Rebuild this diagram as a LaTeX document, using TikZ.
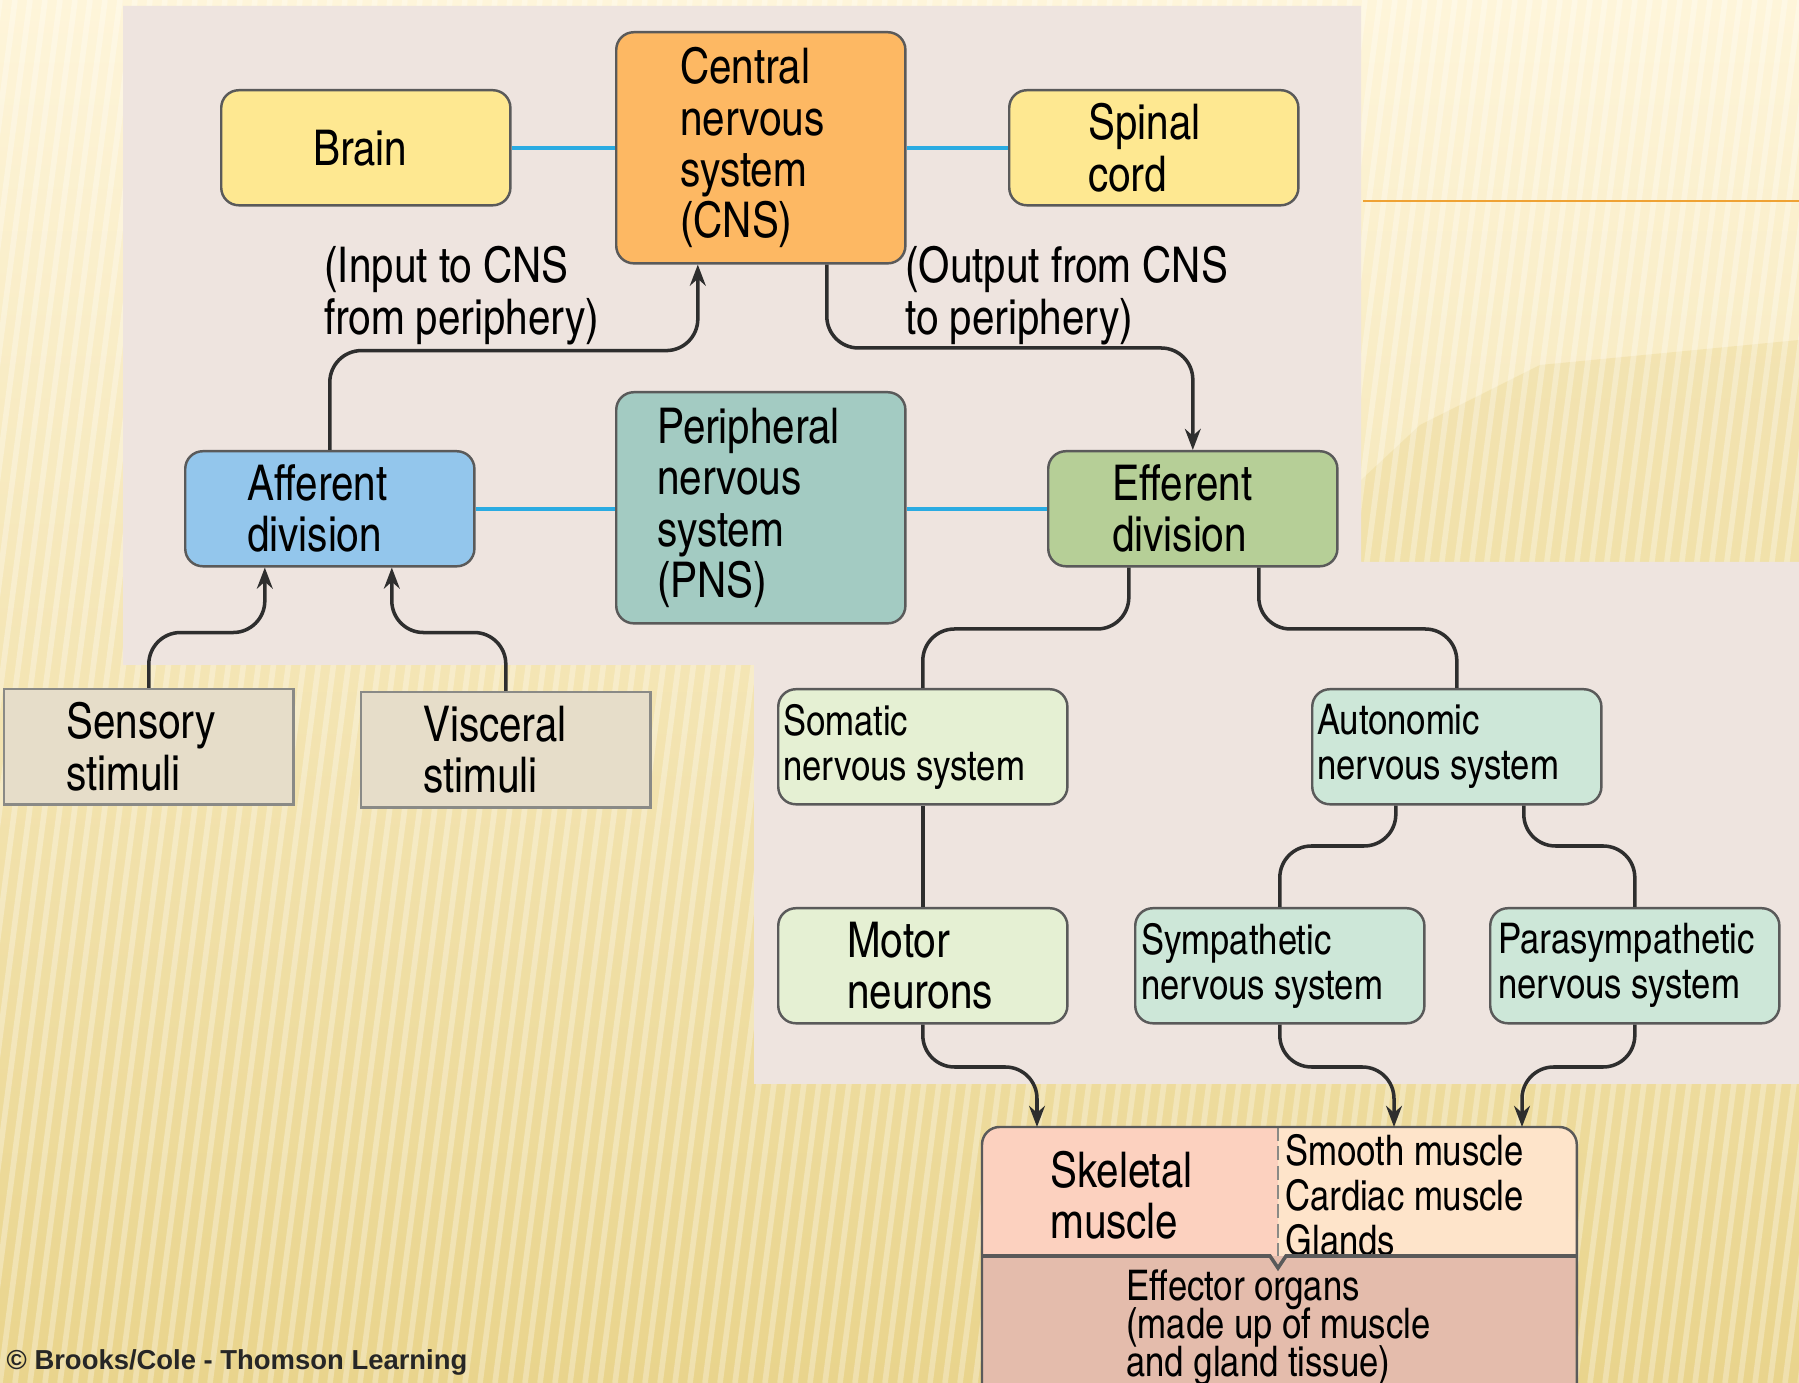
\documentclass[tikz,border=0pt]{standalone}
\usepackage{fontspec}
\setmainfont{texgyreheroscn}[Extension=.otf, UprightFont=*-regular, BoldFont=*-bold, ItalicFont=*-italic, BoldItalicFont=*-bolditalic]
\newfontfamily\creditfont{Liberation Sans}
\usepackage{tikz}
\usetikzlibrary{arrows.meta}
\usetikzlibrary{calc}
\newcommand\tightlines{\lineskiplimit=-10pt\relax}

\definecolor{panel}{HTML}{EEE4DF}
\definecolor{bgtop}{HTML}{FEF5DA}
\definecolor{bgbottom}{HTML}{E9D48C}
\definecolor{brainfill}{HTML}{FEE891}
\definecolor{cnsfill}{HTML}{FDB863}
\definecolor{afffill}{HTML}{93C6EC}
\definecolor{pnsfill}{HTML}{A3CBC2}
\definecolor{efffill}{HTML}{B6CF97}
\definecolor{stimfill}{HTML}{E6DDC9}
\definecolor{somfill}{HTML}{E5F0D3}
\definecolor{autfill}{HTML}{CDE7D8}
\definecolor{skelfill}{HTML}{FCD1BF}
\definecolor{smoothfill}{HTML}{FEE4CA}
\definecolor{effbase}{HTML}{E4BCAC}
\definecolor{boxline}{HTML}{5A5A5A}
\definecolor{stimline}{HTML}{8A8A86}
\definecolor{nerveblue}{HTML}{2AABE2}
\definecolor{linkgray}{HTML}{2E2E2E}
\definecolor{ruleorange}{HTML}{EFA234}

\begin{document}
\begin{tikzpicture}[x=0.01cm, y=-0.01cm]
\tikzset{font=\fontsize{14}{14.6}\selectfont}
\tikzset{box/.style={draw=boxline, line width=0.7pt, rounded corners=5pt, anchor=north west, minimum width=2.89cm, minimum height=1.15cm, align=flush left, inner sep=2pt}}
\tikzset{tall/.style={box, minimum height=2.31cm}}
\tikzset{stim/.style={box, sharp corners, draw=stimline, fill=stimfill}}
\tikzset{indent/.code={\pgfmathsetlengthmacro\boxtw{2.89cm-2*#1}\tikzset{inner xsep=#1, text width=\boxtw}}}
\tikzset{smalltext/.style={font=\fontsize{12}{12.8}\selectfont}}
\tikzset{notetext/.style={font={\fontsize{12}{10.9}\selectfont\tightlines}}}
\tikzset{nerve/.style={draw=nerveblue, line width=1.2pt}}
\tikzset{link/.style={draw=linkgray, line width=1pt, rounded corners=9pt}}
\tikzset{flow/.style={link, -{Stealth[length=6pt, width=4.5pt]}}}
\tikzset{stripe/.style={white, opacity=0.3, line width=1.6pt}}

\useasboundingbox (0,0) rectangle (1799,1383);
\shade[top color=bgtop, bottom color=bgbottom] (0,0) rectangle (1799,1383);
\fill[bgbottom, opacity=0.35] (1361,480) -- (1420,425) -- (1540,365) -- (1799,340) -- (1799,562) -- (1361,562) -- cycle;
\foreach \x in {-300,-285,...,1800}
  \draw[stripe] (\x,1383) -- (\x+180,0);
\draw[ruleorange, line width=0.8pt] (1363,201) -- (1799,201);
\fill[panel] (123,6) -- (1361,6) -- (1361,562) -- (1799,562) -- (1799,1084) -- (754,1084) -- (754,665) -- (123,665) -- cycle;

% central and peripheral system
\node[box, indent=0.92cm, fill=brainfill] (brain) at (220,89) {Brain};
\node[tall, indent=0.64cm, fill=cnsfill] (cns) at (615,31) {Central\\nervous\\system\\(CNS)};
\node[box, indent=0.79cm, fill=brainfill] (spinal) at (1008,89) {Spinal\\cord};
\node[box, indent=0.62cm, fill=afffill] (afferent) at (184,450) {Afferent\\division};
\node[tall, indent=0.41cm, fill=pnsfill] (pns) at (615,391) {Peripheral\\nervous\\system\\(PNS)};
\node[box, indent=0.64cm, fill=efffill] (efferent) at (1047,450) {Efferent\\division};
\node[stim, indent=0.62cm] (sensory) at (3,688) {Sensory\\stimuli};
\node[stim, indent=0.62cm] (visceral) at (360,691) {Visceral\\stimuli};
\node[box, smalltext, indent=0.05cm, fill=somfill] (somatic) at (777,688) {Somatic\\nervous system};
\node[box, smalltext, indent=0.05cm, fill=autfill] (autonomic) at (1311,688) {Autonomic\\nervous system};
\node[box, indent=0.69cm, fill=somfill] (motor) at (777,907) {Motor\\neurons};
\node[box, smalltext, indent=0.06cm, fill=autfill] (sympathetic) at (1134,907) {Sympathetic\\nervous system};
\node[box, smalltext, indent=0.08cm, fill=autfill] (parasympathetic) at (1489,907) {Parasympathetic\\nervous system};

\node[anchor=north west, align=left] (input) at (312,234) {(Input to CNS\\from periphery)};
\node[anchor=north west, align=left] (output) at (893,234) {(Output from CNS\\to periphery)};

% effector organs
\node[box, draw=none, fill=effbase, minimum width=5.92cm, minimum height=2.75cm] (effector) at (982,1127) {};
\coordinate (split) at (1278,1256);
\begin{scope}
\clip[rounded corners=5pt] (effector.north west) rectangle (effector.south east);
\fill[skelfill] (effector.north west) rectangle (split);
\fill[smoothfill] (effector.north -| split) rectangle (split -| effector.east);
\end{scope}
\node[anchor=west, align=left] (skeletal) at (1038,1195) {Skeletal\\muscle};
\node[anchor=west, align=left, smalltext] (smooth) at (1273,1195) {Smooth muscle\\Cardiac muscle\\Glands};
\draw[stimline, dash pattern=on 4pt off 1.5pt] (effector.north -| split) -- (split);
\draw[boxline, line width=1pt] (effector.west |- split) -- ($(split)+(-8,0)$) -- ($(split)+(0,12)$) -- ($(split)+(8,0)$) -- (split -| effector.east);
\draw[boxline, line width=0.7pt, rounded corners=5pt] (effector.north west) rectangle (effector.south east);
\node[anchor=north west, align=left, notetext] (organs) at (1114,1257) {Effector organs\\(made up of muscle\\and gland tissue)};

\node[anchor=west, inner sep=0pt, text=black!85, font=\creditfont\bfseries\fontsize{7.8}{9}\selectfont] (credit) at (6,1362) {© Brooks/Cole - Thomson Learning};

% connectors
\draw[nerve] (brain.east) -- (brain.east -| cns.west);
\draw[nerve] (spinal.west) -- (spinal.west -| cns.east);
\draw[nerve] (afferent.east) -- (afferent.east -| pns.west);
\draw[nerve] (efferent.west) -- (efferent.west -| pns.east);

\draw[flow] (afferent.north) |- ($(cns.south)+(-63,86)$) -- ($(cns.south)+(-63,0)$);
\draw[flow] ($(cns.south)+(66,0)$) |- ($(efferent.north)+(0,-102)$) -- (efferent.north);
\draw[flow] (sensory.north) |- ($(afferent.south)+(-65,65)$) -- ($(afferent.south)+(-65,0)$);
\draw[flow] (visceral.north) |- ($(afferent.south)+(62,65)$) -- ($(afferent.south)+(62,0)$);

\draw[link] ($(efferent.south)+(-64,0)$) |- ($(somatic.north)+(0,-59)$) -- (somatic.north);
\draw[link] ($(efferent.south)+(66,0)$) |- ($(autonomic.north)+(0,-59)$) -- (autonomic.north);
\draw[link] (somatic.south) -- (motor.north);
\draw[link] ($(autonomic.south)+(-61,0)$) |- ($(sympathetic.north)+(0,-61)$) -- (sympathetic.north);
\draw[link] ($(autonomic.south)+(67,0)$) |- ($(parasympathetic.north)+(0,-61)$) -- (parasympathetic.north);

\draw[flow] (motor.south) |- ($(effector.north west)+(55,-60)$) -- ($(effector.north west)+(55,0)$);
\draw[flow] (sympathetic.south) |- ($(effector.north west)+(412,-60)$) -- ($(effector.north west)+(412,0)$);
\draw[flow] (parasympathetic.south) |- ($(effector.north west)+(540,-60)$) -- ($(effector.north west)+(540,0)$);
\end{tikzpicture}
\end{document}
